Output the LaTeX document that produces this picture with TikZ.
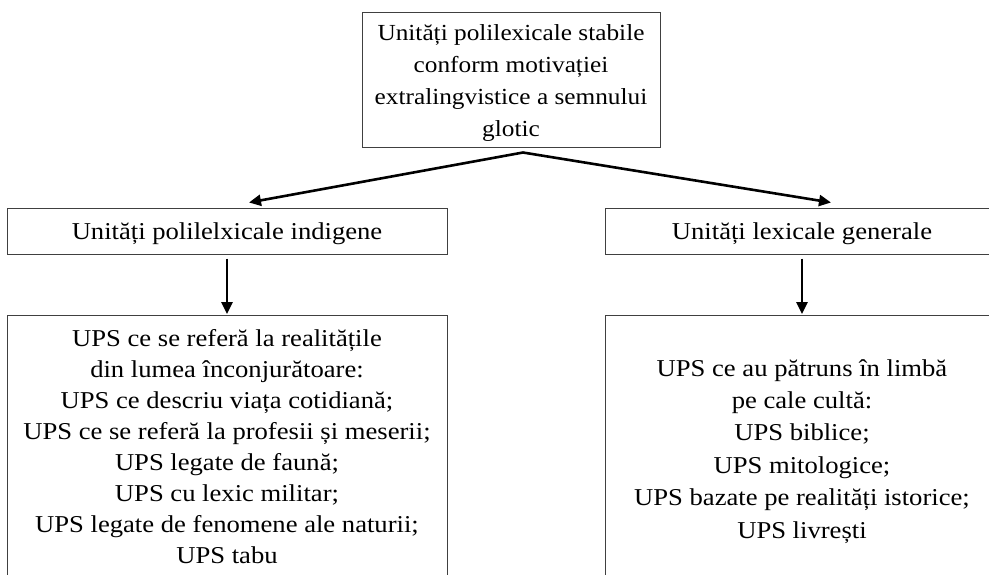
\documentclass[tikz,border=0pt]{standalone}
\usepackage{fontspec}
\setmainfont{Liberation Serif}[FakeStretch=1.1]
\usepackage{tikz}
\usetikzlibrary{arrows.meta, calc, positioning}

\begin{document}
\begin{tikzpicture}[x=1pt, y=-1pt,
    box/.style={draw=black!75, line width=1pt, align=center, inner sep=0pt,
        font=\fontsize{24.2}{32}\selectfont},
    listtext/.style={align=center, inner sep=0pt, anchor=north},
    arr/.style={-{Triangle[length=12pt,width=11pt]}, line width=2.6pt}]
    % Margens
    \useasboundingbox (0,0) rectangle (989,574);
    \clip (0,0) rectangle (989,574);
    % Caixa superior
    \node[box, font=\fontsize{23}{32}\selectfont, minimum width=298pt, minimum height=135pt] (top) at (511,79.5)
        {\rule{0pt}{23.5pt}Unități polilexicale stabile\\conform motivației\\extralingvistice a semnului\\glotic};
    % Caixas do meio
    \node[box, minimum width=440pt, minimum height=46pt] (indig) at (227,231)
        {\rule{0pt}{22pt}Unități polilelxicale indigene};
    \node[box, minimum width=394pt, minimum height=46pt] (gen) at (802,231)
        {\rule{0pt}{22pt}Unități lexicale generale};
    % Caixas inferiores
    \node[box, minimum width=440pt, minimum height=300pt, anchor=north] (indiglist) at (227,315) {};
    \node[box, minimum width=394pt, minimum height=300pt, anchor=north] (genlist) at (802,315) {};
    \node[listtext, font=\fontsize{24.2}{31}\selectfont, below=14pt of indiglist.north] (indigtext)
        {UPS ce se referă la realitățile\\din lumea înconjurătoare:\\UPS ce descriu viața cotidiană;\\UPS ce se referă la profesii și meserii;\\UPS legate de faună;\\UPS cu lexic militar;\\UPS legate de fenomene ale naturii;\\UPS tabu};
    \node[listtext, font=\fontsize{24.2}{32.4}\selectfont, below=44pt of genlist.north] (gentext)
        {UPS ce au pătruns în limbă\\pe cale cultă:\\UPS biblice;\\UPS mitologice;\\UPS bazate pe realități istorice;\\UPS livrești};
    % Setas
    \coordinate (fork) at ([xshift=12pt, yshift=-5pt]top.south);
    \draw[arr] (fork) -- ([xshift=22pt, yshift=5pt]indig.north);
    \draw[arr] (fork) -- ([xshift=29pt, yshift=5pt]gen.north);
    \draw[arr, shorten <=4pt] (indig.south) -- ([yshift=1pt]indiglist.north);
    \draw[arr, shorten <=4pt] (gen.south) -- ([yshift=1pt]genlist.north);
\end{tikzpicture}
\end{document}
